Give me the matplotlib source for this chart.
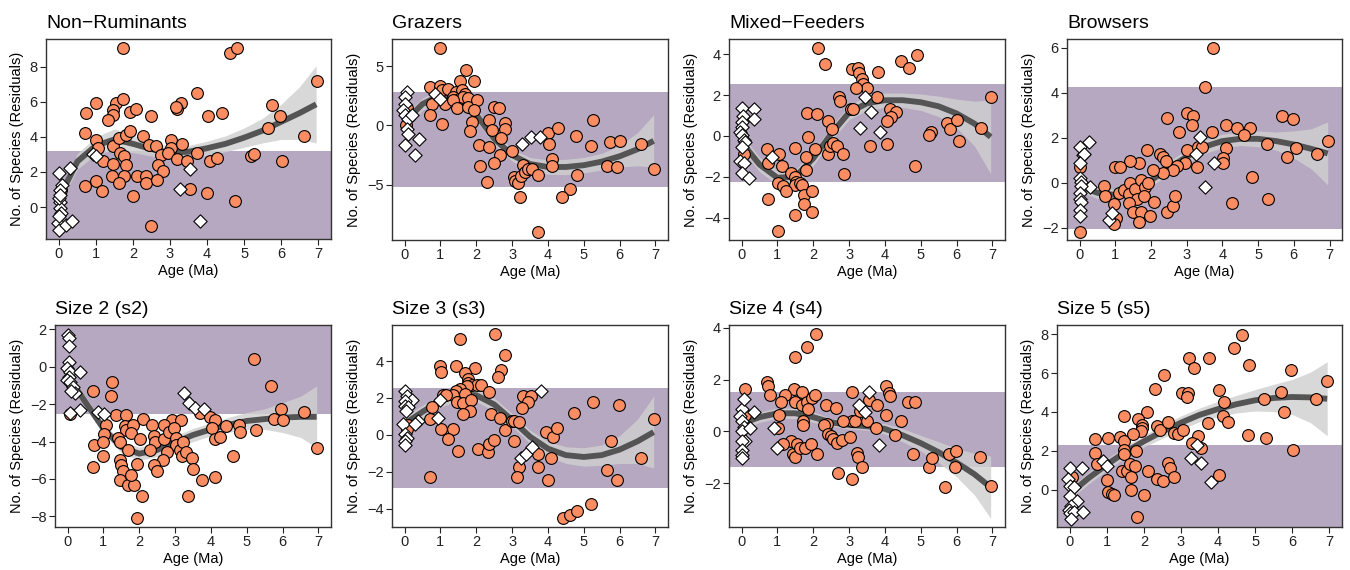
#~~~~~~~~~~~~~~~~~~~~~~~~~~~~~~~~~~~~~~~~~~~~~~~~
#### Species residuals vs age, 8 panel chart ####
#~~~~~~~~~~~~~~~~~~~~~~~~~~~~~~~~~~~~~~~~~~~~~~~~

import numpy as np
import matplotlib
matplotlib.use('Agg')
import matplotlib.pyplot as plt

plt.rcParams['font.family'] = ['Liberation Sans', 'DejaVu Sans']

#~~~~~~~~~~~~~~~
#### Data ####
#~~~~~~~~~~~~~~~

fit_age = [0, 0.5, 1, 1.5, 2, 2.5, 3, 3.5, 4, 4.5, 5, 5.5, 6, 6.5, 6.95]

# Non-Ruminants
nr_cx = [1.72, 4.61, 4.82, 6.97, 3.74, 3.30, 3.18, 3.15, 1.01, 0.74, 1.54, 1.72, 1.46, 1.45, 1.33, 1.93,
         2.08, 2.50, 4.02, 4.40, 5.75, 5.96, 5.66, 6.61, 0.70, 1.01, 1.06, 1.46, 1.63, 1.82, 1.91, 2.28,
         2.43, 2.62, 2.77, 3.02, 3.04, 2.95, 3.33, 3.18, 3.45, 3.72, 1.66, 1.75, 1.19, 1.46, 1.81, 2.68,
         2.82, 4.08, 4.26, 5.19, 5.28, 6.03, 1.42, 1.75, 2.10, 2.35, 2.35, 2.66, 1.61, 0.70, 1.01, 1.15,
         2.01, 3.54, 3.99, 4.76, 2.50, 0.06]
nr_cy = [9.05, 8.76, 9.04, 7.20, 6.48, 5.91, 5.57, 5.72, 5.91, 5.35, 5.91, 6.16, 5.54, 5.25, 4.93, 5.44,
         5.59, 5.21, 5.21, 5.35, 5.79, 5.19, 4.49, 4.06, 4.21, 3.83, 3.36, 3.45, 3.92, 4.11, 4.34, 4.02,
         3.51, 3.49, 2.94, 3.83, 3.36, 3.07, 3.60, 2.75, 2.60, 3.07, 3.07, 2.92, 2.60, 2.46, 2.37, 2.37,
         2.03, 2.60, 2.79, 2.88, 3.03, 2.60, 1.78, 1.74, 1.74, 1.74, 1.36, 1.55, 1.36, 1.18, 1.46, 0.89,
         0.64, 1.04, 0.80, 0.36, -1.10, 0.95]
nr_dx = [0.00, 0.29, 0.92, 1.01, 0.09, 0.02, 0.04, 0.02, 0.06, -0.03, 0.00, 0.20, 0.36, 0.00, 3.27,
         3.54, 3.81, 0.02, 0.00]
nr_dy = [1.93, 2.22, 3.03, 2.88, 1.27, 0.99, 0.27, -0.06, -0.34, -0.91, -1.29, -1.00, -0.82, 0.51, 1.02,
         2.18, -0.78, 0.70, -0.49]
nr_fit = [0.5, 2.6, 3.5, 3.85, 3.6, 3.3, 3.1, 3.15, 3.35, 3.6, 3.95, 4.35, 4.85, 5.35, 5.85]
nr_se = [0.35, 0.45, 0.5, 0.6, 0.5, 0.4, 0.35, 0.35, 0.4, 0.45, 0.55, 0.7, 1.0, 1.5, 2.2]
nr_band = [-5, 3.22]

# Grazers
gr_cx = [1.00, 1.72, 1.55, 1.95, 0.70, 1.00, 1.04, 1.21, 1.43, 1.60, 1.69, 1.36, 1.52, 1.64, 1.76, 0.76,
         1.13, 1.34, 1.46, 1.78, 2.01, 1.95, 0.71, 1.04, 1.88, 1.83, 0.06, 0.05, 2.49, 2.64, 2.36, 2.43,
         2.80, 2.80, 2.68, 2.08, 2.37, 2.66, 2.99, 2.11, 2.50, 2.29, 3.30, 3.06, 3.08, 3.16, 3.25, 3.36,
         3.45, 3.55, 3.71, 3.22, 3.73, 4.01, 4.27, 4.03, 4.10, 4.12, 4.77, 4.82, 4.61, 4.40, 5.25, 5.20,
         5.74, 6.01, 5.66, 5.94, 6.61, 6.95]
gr_cy = [6.54, 4.65, 3.75, 3.75, 3.24, 3.35, 3.01, 3.10, 2.82, 2.96, 2.68, 2.39, 2.25, 2.39, 2.34, 1.83,
         1.77, 2.11, 1.49, 1.55, 2.11, 1.27, 0.85, 0.14, 0.28, -0.51, 1.46, 0.00, 1.55, 1.49, 0.48, -0.42,
         0.20, -0.28, -1.04, -1.61, -1.83, -2.45, -2.17, -3.38, -3.18, -4.73, -3.32, -4.37, -4.65, -4.87,
         -4.28, -3.94, -3.66, -3.66, -4.17, -6.00, -8.96, -0.65, -0.23, -1.55, -2.82, -3.38, -0.90, -4.14,
         -5.35, -6.06, 0.42, -1.75, -1.41, -1.27, -3.44, -3.46, -1.55, -3.66]
gr_dx = [0.06, 0.02, 0.02, -0.03, 0.02, 0.09, 0.22, 0.06, 0.09, 0.02, 0.39, 0.30, 0.85, 0.99, 3.27,
         3.53, 3.78]
gr_dy = [2.82, 2.39, 1.83, 1.27, 0.85, 0.56, 0.85, -0.28, -0.76, -1.61, -1.13, -2.48, 2.68, 2.25,
         -1.55, -0.99, -0.99]
gr_fit = [0.3, 1.8, 2.55, 2.3, 0.9, -1.1, -2.5, -3.25, -3.5, -3.5, -3.35, -3.05, -2.6, -2.0, -1.3]
gr_se = [0.6, 0.5, 0.5, 0.5, 0.5, 0.5, 0.5, 0.55, 0.6, 0.65, 0.65, 0.7, 0.9, 1.4, 2.2]
gr_band = [-5.21, 2.82]

# Mixed-Feeders
mf_cx = [2.13, 2.34, 4.89, 4.46, 4.67, 3.07, 3.26, 3.28, 3.80, 3.36, 3.40, 3.50, 3.19, 3.78, 2.73, 2.74,
         3.05, 3.12, 1.83, 2.11, 2.40, 2.51, 4.15, 4.30, 4.18, 4.06, 6.95, 5.28, 5.23, 5.73, 5.82, 6.02,
         6.08, 6.69, 4.83, 4.06, 3.59, 1.85, 2.04, 2.42, 2.47, 2.56, 2.67, 2.84, 2.86, 1.79, 1.80, 1.48,
         0.72, 0.75, 1.05, 1.12, 0.08, 1.38, 1.48, 1.52, 1.48, 1.62, 1.68, 1.74, 1.74, 1.96, 1.02, 1.15,
         1.24, 0.74, 1.49, 1.97, 1.03]
mf_cy = [4.33, 3.53, 3.97, 3.69, 3.32, 3.28, 3.32, 3.07, 3.12, 2.78, 2.55, 2.34, 2.34, 1.93, 1.93, 1.72,
         1.32, 1.31, 1.14, 1.08, 0.75, 0.34, 1.32, 1.16, 0.95, 0.75, 1.93, 0.21, 0.05, 0.62, 0.33, 0.78,
         -0.23, 0.38, -1.45, -0.39, -0.47, -0.07, -0.65, -0.88, -0.49, -0.33, -0.49, -0.88, -1.86, -1.01,
         -1.67, -0.60, -0.64, -1.31, -0.88, -1.45, -0.88, -1.83, -2.00, -2.24, -2.40, -2.29, -2.40, -2.89,
         -3.33, -2.68, -2.29, -2.45, -2.68, -3.09, -3.87, -3.71, -4.66]
mf_dx = [0.02, 0.35, 0.05, 0.35, 0.00, 0.02, -0.03, 0.02, 0.08, 0.11, 0.02, -0.03, 0.08, 0.00, 0.21,
         0.86, 3.45, 3.61, 3.31, 3.87]
mf_dy = [1.36, 1.32, 0.98, 0.82, 0.70, 0.46, 0.21, 0.05, -0.20, -0.31, -0.52, -1.23, -1.34, -1.80,
         -2.08, -1.01, 1.93, 1.19, 0.41, 0.18]
mf_fit = [-0.3, -1.4, -2.05, -2.0, -1.1, 0.1, 1.15, 1.6, 1.75, 1.75, 1.65, 1.45, 1.1, 0.6, -0.05]
mf_se = [0.35, 0.35, 0.35, 0.35, 0.35, 0.35, 0.35, 0.35, 0.35, 0.35, 0.4, 0.5, 0.7, 1.1, 1.8]
mf_band = [-2.24, 2.55]

# Browsers
br_cx = [3.73, 3.52, 3.00, 3.19, 3.14, 2.46, 2.78, 3.71, 4.11, 4.42, 4.78, 4.61, 5.68, 5.98, 6.95, 6.05,
         6.64, 5.81, 5.24, 4.11, 4.01, 4.01, 4.82, 4.28, 5.29, 3.02, 3.33, 3.44, 3.28, 2.95, 2.74, 2.62,
         2.26, 2.34, 2.43, 2.34, 2.05, 1.89, 1.67, 1.42, 0.99, 1.13, 0.02, 0.68, 0.71, 1.11, 1.25, 1.42,
         1.39, 1.56, 1.61, 1.72, 1.84, 1.91, 1.80, 1.39, 1.49, 1.72, 1.67, 1.98, 2.08, 2.46, 2.62, 2.67,
         0.96, 1.01, 0.96, 0.00]
br_cy = [6.00, 4.27, 3.11, 2.98, 2.56, 2.86, 2.27, 2.27, 2.56, 2.41, 2.41, 2.12, 2.98, 2.83, 1.85, 1.56,
         1.27, 1.16, 1.70, 1.56, 1.11, 0.86, 0.27, -0.89, -0.74, 1.45, 1.57, 1.57, 0.71, 0.86, 0.76, 0.56,
         1.27, 1.16, 0.98, 0.41, 0.56, 1.45, 0.89, 0.98, 0.71, 0.71, 0.71, -0.15, -0.59, -0.44, -0.33,
         0.00, -0.50, -0.30, -0.74, 0.12, -0.21, 0.00, -0.59, -0.89, -1.29, -1.29, -1.73, -1.47, -0.87,
         -1.29, -1.04, -0.59, -0.95, -1.59, -1.84, -2.18]
br_dx = [0.00, 0.09, 0.13, 0.26, 0.00, 0.00, 0.05, 0.28, 0.04, 0.00, 0.00, 0.05, 0.00, 0.00, 0.82,
         0.92, 3.38, 3.25, 3.77, 3.52]
br_dy = [1.60, 1.23, 1.27, 1.82, 0.86, 0.19, 0.04, -0.18, -0.15, -0.47, -0.74, -0.87, -1.21, -1.48,
         -1.66, -1.36, 2.04, 1.27, 0.86, -0.18]
br_fit = [-0.15, -0.45, -0.55, -0.35, 0.1, 0.65, 1.15, 1.6, 1.85, 1.95, 1.95, 1.85, 1.7, 1.5, 1.3]
br_se = [0.25, 0.25, 0.25, 0.25, 0.25, 0.3, 0.3, 0.3, 0.3, 0.3, 0.35, 0.4, 0.6, 0.9, 1.4]
br_band = [-2.07, 4.27]

# Size 2 (s2)
s2_cx = [5.20, 5.67, 1.24, 1.22, 0.72, 0.07, 1.36, 1.64, 2.10, 2.91, 3.17, 3.70, 3.98, 5.96, 5.77, 6.02,
         6.60, 1.08, 1.59, 1.64, 1.83, 1.77, 1.03, 0.75, 1.00, 1.00, 0.72, 1.42, 1.46, 1.70, 2.01, 2.35,
         2.40, 2.43, 2.31, 2.68, 2.68, 2.82, 2.97, 3.02, 3.03, 3.14, 3.22, 3.19, 3.30, 3.47, 2.77, 2.66,
         2.42, 2.49, 3.51, 3.75, 3.36, 4.12, 4.03, 4.10, 4.26, 4.42, 4.77, 4.81, 4.61, 5.26, 4.12, 6.97,
         1.45, 1.48, 1.55, 1.47, 1.70, 1.86, 1.76, 1.93, 2.09, 1.95]
s2_cy = [0.41, -1.02, -0.84, -1.55, -1.30, -2.55, -2.59, -2.59, -2.77, -2.86, -2.86, -2.50, -2.68, -2.27,
         -2.77, -2.86, -2.41, -3.13, -3.16, -3.39, -3.13, -3.57, -3.61, -4.20, -4.02, -4.77, -5.36, -3.80,
         -4.02, -4.46, -3.88, -3.13, -3.70, -4.02, -4.46, -3.13, -3.88, -3.48, -3.30, -3.80, -4.20, -4.46,
         -4.02, -4.77, -4.55, -4.86, -4.55, -5.00, -5.27, -5.59, -5.45, -6.04, -6.91, -2.86, -3.30, -3.88,
         -3.75, -3.16, -3.13, -3.48, -4.77, -3.39, -5.89, -4.32, -5.00, -5.27, -5.59, -6.04, -6.34, -6.34,
         -5.77, -5.18, -6.93, -8.09]
s2_dx = [0.00, 0.03, 0.03, 0.03, -0.02, 0.07, 0.03, -0.02, 0.07, 0.15, 0.21, 0.09, 0.35, 0.35, 0.06,
         0.86, 1.02, 3.26, 3.40, 3.56, 3.81]
s2_dy = [1.70, 1.55, 1.11, 0.23, -0.09, -0.30, -0.54, -0.71, -0.80, -1.07, -1.43, -1.30, -0.30, -2.32,
         -2.45, -2.41, -2.54, -1.38, -1.96, -2.23, -2.27]
s2_fit = [-0.45, -1.9, -3.3, -4.3, -4.65, -4.45, -4.05, -3.65, -3.35, -3.1, -2.9, -2.8, -2.72, -2.68, -2.68]
s2_se = [0.3, 0.3, 0.3, 0.3, 0.35, 0.35, 0.35, 0.35, 0.35, 0.4, 0.45, 0.55, 0.8, 1.1, 1.65]
s2_band = [-2.55, 5]

# Size 3 (s3)
s3_cx = [2.53, 1.55, 2.80, 1.00, 1.02, 1.43, 1.97, 2.69, 1.69, 2.62, 1.76, 1.78, 1.87, 2.01, 2.13, 1.73,
         1.55, 1.43, 1.36, 1.06, 1.16, 2.36, 1.69, 1.46, 1.64, 1.86, 1.83, 1.64, 2.41, 0.76, 0.70, 1.02,
         1.36, 1.21, 1.48, 0.09, 0.06, 0.70, 2.06, 2.32, 2.36, 2.50, 2.66, 2.80, 2.99, 3.04, 3.19, 3.05,
         3.30, 3.53, 3.44, 3.29, 3.20, 3.15, 3.71, 3.72, 4.01, 3.96, 4.15, 4.24, 4.09, 4.74, 5.25, 5.99,
         5.76, 5.66, 5.94, 6.59, 6.95, 4.41, 4.62, 4.82, 5.20]
s3_cy = [5.49, 5.18, 4.33, 3.73, 3.42, 3.73, 3.64, 3.51, 3.36, 3.13, 3.04, 2.82, 2.73, 2.73, 2.69, 2.64,
         2.51, 2.40, 2.18, 2.18, 2.15, 2.33, 2.24, 1.78, 1.73, 1.91, 1.31, 1.15, 1.13, 1.49, 0.87, 0.33,
         0.33, -0.24, -0.85, 0.55, 0.33, -2.31, -0.76, -0.91, -0.49, -0.27, 0.91, 0.24, 0.76, 0.73, 0.69,
         -0.33, 2.09, 2.13, 1.78, 1.45, -1.73, -2.27, -1.05, -1.73, -2.45, 0.18, -0.09, 0.36, -1.24, 1.18,
         1.78, 1.60, -0.31, -1.91, -2.45, -1.24, 0.87, -4.51, -4.36, -4.13, -3.73]
s3_dx = [0.02, 0.06, 0.20, 0.02, 0.02, 0.09, 0.04, -0.03, 0.00, 0.06, 0.02, 0.02, 0.37, 0.30, 0.93,
         0.99, 3.24, 3.39, 3.55, 3.80]
s3_dy = [2.40, 2.09, 1.91, 1.82, 1.55, 1.49, 1.31, 0.58, 0.04, -0.18, -0.36, -0.55, 0.73, 0.58, 0.91,
         1.91, -1.27, -1.05, -0.64, 2.40]
s3_fit = [0.6, 1.25, 1.85, 2.2, 2.15, 1.65, 0.8, -0.1, -0.75, -1.1, -1.2, -1.1, -0.8, -0.35, 0.15]
s3_se = [0.4, 0.35, 0.35, 0.35, 0.35, 0.35, 0.35, 0.35, 0.4, 0.45, 0.5, 0.55, 0.75, 1.2, 1.95]
s3_band = [-2.91, 2.55]

# Size 4 (s4)
s4_cx = [2.09, 1.82, 1.48, 0.72, 0.74, 0.78, 0.11, 1.46, 1.68, 1.21, 1.09, 1.48, 1.69, 1.83, 1.97, 2.04,
         1.86, 1.04, 1.72, 1.72, 1.01, 0.11, 2.36, 2.64, 3.07, 3.07, 3.17, 2.83, 2.39, 2.30, 2.41, 2.49,
         2.55, 2.67, 2.81, 3.02, 2.70, 3.07, 3.21, 3.25, 3.37, 3.31, 3.56, 3.77, 3.49, 3.74, 4.02, 4.12,
         4.14, 4.04, 4.28, 4.44, 4.63, 4.84, 4.77, 5.23, 5.30, 5.79, 5.98, 5.96, 5.67, 6.65, 6.97, 1.37,
         1.16, 1.44, 1.48, 1.55, 1.63, 1.77, 1.95, 2.11]
s4_cy = [3.77, 3.25, 2.88, 1.91, 1.74, 1.39, 1.64, 1.65, 1.52, 1.39, 1.14, 1.14, 1.03, 1.14, 1.29, 1.39,
         0.88, 0.65, 0.41, 0.26, 0.15, 0.62, 1.03, 0.90, 1.52, 0.39, 0.39, 0.39, 0.28, 0.26, -0.10, -0.19,
         -0.28, -0.45, -0.32, -0.23, -1.61, -1.85, -0.84, -0.99, -1.35, 0.80, 1.23, 1.03, 0.39, 0.13, 1.74,
         1.48, 1.35, 0.65, -0.13, 0.39, 1.14, 1.14, -0.88, -1.35, -1.01, -0.86, -0.75, -1.35, -2.13, -0.99,
         -2.10, -0.36, -0.49, -0.88, -0.99, -0.49, -0.62, -0.65, -0.49, -0.86]
s4_dx = [0.02, 0.08, -0.03, 0.02, 0.07, 0.00, 0.11, 0.00, 0.02, 0.00, 0.00, 0.36, 0.23, 0.90, 1.00,
         3.28, 3.56, 3.44, 3.84]
s4_dy = [0.88, 1.26, 0.58, 0.39, 0.19, 0.00, -0.36, -0.36, -0.71, -0.90, -1.03, 0.75, 0.15, 0.13, -0.65,
         1.03, 1.52, 0.75, -0.52]
s4_fit = [0.3, 0.55, 0.7, 0.7, 0.55, 0.35, 0.25, 0.2, 0.1, -0.15, -0.45, -0.8, -1.2, -1.65, -2.15]
s4_se = [0.25, 0.2, 0.2, 0.2, 0.2, 0.15, 0.15, 0.15, 0.2, 0.25, 0.3, 0.4, 0.55, 0.8, 1.2]
s4_band = [-1.37, 1.51]

# Size 5 (s5)
s5_cx = [4.64, 4.44, 3.21, 3.75, 3.35, 4.83, 5.98, 2.53, 6.95, 2.30, 4.03, 3.03, 3.19, 3.16, 5.69, 5.24,
         6.65, 4.15, 5.78, 4.14, 4.28, 3.73, 2.07, 1.45, 1.85, 1.94, 1.94, 1.92, 2.35, 2.44, 2.66, 2.80,
         2.93, 3.05, 3.46, 3.30, 3.55, 4.80, 5.30, 6.03, 0.68, 1.03, 1.35, 1.46, 1.45, 1.45, 1.69, 1.78,
         0.68, 0.73, 1.41, 1.55, 1.62, 1.77, 2.12, 1.01, 1.03, 1.14, 1.19, 1.66, 2.01, 1.65, 2.35, 2.51,
         2.65, 2.69, 2.80, 4.03, 0.05, 1.82]
s5_cy = [7.98, 7.31, 6.79, 6.79, 6.28, 6.40, 6.14, 5.88, 5.59, 5.16, 5.14, 4.98, 4.98, 4.76, 5.05, 4.67,
         4.67, 4.50, 3.98, 3.81, 3.50, 3.43, 3.98, 3.81, 3.64, 3.33, 3.17, 3.00, 3.26, 3.09, 3.50, 2.91,
         2.86, 3.07, 2.78, 2.43, 2.14, 2.83, 2.66, 2.03, 2.60, 2.66, 2.69, 2.52, 2.03, 1.83, 2.86, 1.97,
         1.88, 1.31, 0.97, 0.97, 1.31, 1.22, 0.97, 0.53, -0.12, -0.19, -0.24, -0.03, -0.24, 0.67, 0.57,
         0.45, 1.36, 1.14, 0.67, 0.76, 0.67, -1.40]
s5_dx = [0.00, 0.32, -0.05, 0.00, 0.12, 0.00, 0.19, 0.03, -0.02, 0.00, 0.12, 0.35, 0.03, 0.89, 1.01,
         3.27, 3.55, 3.44, 3.82]
s5_dy = [1.10, 1.10, 0.57, 0.22, 0.14, -0.33, -0.59, -0.84, -1.02, -1.19, -1.16, -1.16, -1.48, 1.48,
         1.22, 1.66, 1.40, 2.29, 0.41]
s5_fit = [-0.2, 0.6, 1.3, 1.95, 2.5, 3.0, 3.45, 3.85, 4.15, 4.4, 4.6, 4.72, 4.77, 4.75, 4.68]
s5_se = [0.3, 0.3, 0.3, 0.3, 0.3, 0.35, 0.35, 0.35, 0.4, 0.45, 0.55, 0.7, 0.9, 1.3, 1.9]
s5_band = [-5, 2.29]

titles = ['Non\u2212Ruminants', 'Grazers', 'Mixed\u2212Feeders', 'Browsers',
          'Size 2 (s2)', 'Size 3 (s3)', 'Size 4 (s4)', 'Size 5 (s5)']

#~~~~~~~~~~~~~~~~~~~~~~~~~~~~~~
#### Layout of the 8 panels ####
#~~~~~~~~~~~~~~~~~~~~~~~~~~~~~~

W, H = 1350, 570
# left, right, top, bottom in pixels
boxes = [(46, 331, 39, 239), (392, 668, 39, 240), (729, 1005, 39, 240), (1067, 1342, 39, 240),
         (55, 331, 325, 527), (392, 668, 325, 527), (729, 1005, 325, 527), (1057, 1342, 325, 527)]
ylims = [(-1.82, 9.57), (-9.65, 7.28), (-5.1, 4.75), (-2.55, 6.39),
         (-8.57, 2.23), (-5.0, 5.96), (-3.68, 4.1), (-1.91, 8.47)]
yticks = [[0, 2, 4, 6, 8], [-5, 0, 5], [-4, -2, 0, 2, 4], [-2, 0, 2, 4, 6],
          [-8, -6, -4, -2, 0, 2], [-4, -2, 0, 2, 4], [-2, 0, 2, 4], [0, 2, 4, 6, 8]]

panels = [
    (nr_cx, nr_cy, nr_dx, nr_dy, nr_fit, nr_se, nr_band),
    (gr_cx, gr_cy, gr_dx, gr_dy, gr_fit, gr_se, gr_band),
    (mf_cx, mf_cy, mf_dx, mf_dy, mf_fit, mf_se, mf_band),
    (br_cx, br_cy, br_dx, br_dy, br_fit, br_se, br_band),
    (s2_cx, s2_cy, s2_dx, s2_dy, s2_fit, s2_se, s2_band),
    (s3_cx, s3_cy, s3_dx, s3_dy, s3_fit, s3_se, s3_band),
    (s4_cx, s4_cy, s4_dx, s4_dy, s4_fit, s4_se, s4_band),
    (s5_cx, s5_cy, s5_dx, s5_dy, s5_fit, s5_se, s5_band),
]

fig = plt.figure(figsize=(W / 100, H / 100), dpi=100)

for i, (cx, cy, dx, dy, fit, se, band) in enumerate(panels):
    l, r, t, b = boxes[i]
    ax = fig.add_axes([l / W, 1 - b / H, (r - l) / W, (b - t) / H])

    # null range band
    ax.axhspan(band[0], band[1], color='#b6a8c0', lw=0, zorder=0)

    # smooth fit and its ribbon
    fa = np.array(fit_age)
    fy = np.array(fit)
    fs = np.array(se)
    ax.fill_between(fa, fy - fs, fy + fs, color='#d0d0d0', alpha=0.82, lw=0, zorder=1)
    ax.plot(fa, fy, color='#545454', lw=4.2, solid_capstyle='butt', solid_joinstyle='round', zorder=2)

    # sites
    ax.scatter(cx, cy, s=72, marker='o', facecolor='#fc8d62', edgecolor='black', linewidth=0.8, zorder=3)
    ax.scatter(dx, dy, s=46, marker='D', facecolor='white', edgecolor='black', linewidth=0.8, zorder=4)

    ax.set_xlim(-0.35, 7.35)
    ax.set_ylim(*ylims[i])
    ax.set_xticks(range(8))
    ax.set_yticks(yticks[i])
    ax.set_yticklabels([str(v).replace('-', '\u2212') for v in yticks[i]])
    ax.tick_params(direction='out', length=4, width=0.8, labelsize=10.5, colors='#222222', pad=2)
    for sp in ax.spines.values():
        sp.set_color('#333333')
        sp.set_linewidth(1.0)

    ax.set_title(titles[i], loc='left', fontsize=14, pad=8)
    ax.set_xlabel('Age (Ma)', fontsize=10.5, labelpad=2)
    ax.set_ylabel('No. of Species (Residuals)', fontsize=10.5, labelpad=4)

fig.savefig('out.png', dpi=100)
